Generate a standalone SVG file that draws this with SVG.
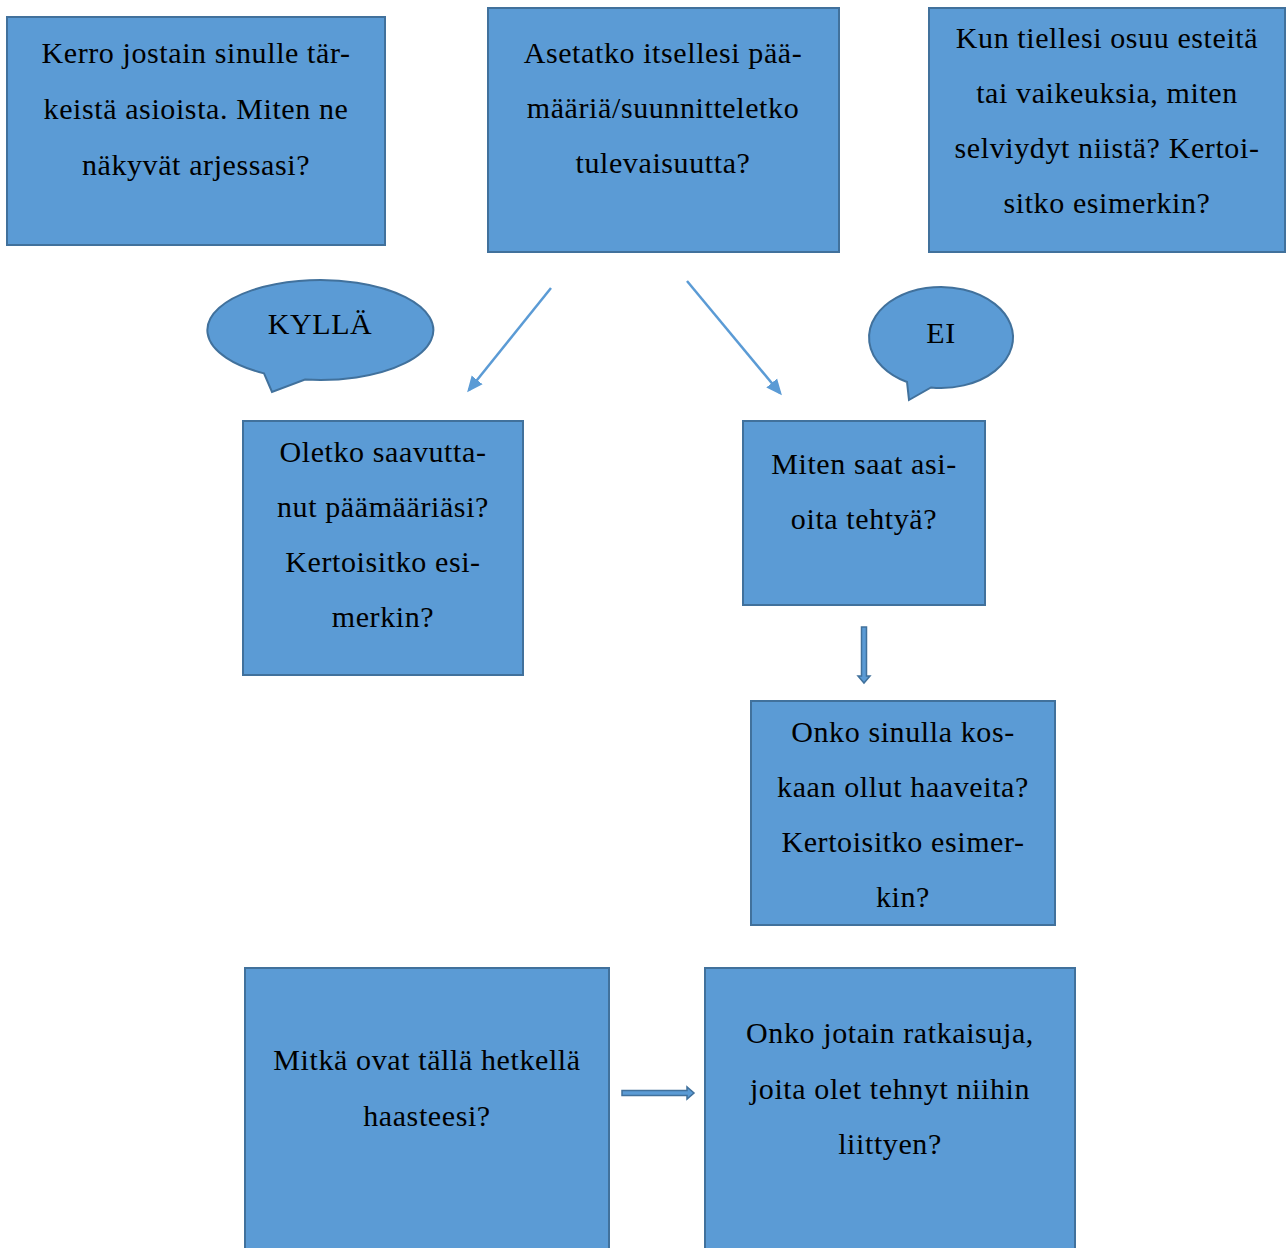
<svg xmlns="http://www.w3.org/2000/svg" width="1286" height="1248" viewBox="0 0 1286 1248">
<style>
.box{fill:#5B9BD5;stroke:#41719C;stroke-width:2}
.t{font-family:"Liberation Serif","Times New Roman",serif;font-size:30px;letter-spacing:0.6px;fill:#000;text-anchor:middle}
.ln{stroke:#5B9BD5;stroke-width:2.5;fill:none}
.blk{fill:#5B9BD5;stroke:#41719C;stroke-width:1.5}
</style>
<defs>
<marker id="ah2" markerWidth="16" markerHeight="16" refX="13" refY="8" orient="auto" markerUnits="userSpaceOnUse" viewBox="0 0 16 16">
<path d="M0,1 L16,8 L0,15 Z" fill="#5B9BD5"/>
</marker>
</defs>
<g id="n1"><rect class="box" x="7" y="17" width="378" height="228"/>
<text class="t" x="196" y="63">Kerro jostain sinulle tär-</text>
<text class="t" x="196" y="119">keistä asioista. Miten ne</text>
<text class="t" x="196" y="175">näkyvät arjessasi?</text></g>
<g id="n2"><rect class="box" x="488" y="8" width="351" height="244"/>
<text class="t" x="663" y="63">Asetatko itsellesi pää-</text>
<text class="t" x="663" y="118">määriä/suunnitteletko</text>
<text class="t" x="663" y="173">tulevaisuutta?</text></g>
<g id="n3"><rect class="box" x="929" y="8" width="356" height="244"/>
<text class="t" x="1107" y="48">Kun tiellesi osuu esteitä</text>
<text class="t" x="1107" y="103">tai vaikeuksia, miten</text>
<text class="t" x="1107" y="158">selviydyt niistä? Kertoi-</text>
<text class="t" x="1107" y="213">sitko esimerkin?</text></g>
<g id="kylla"><path class="box" d="M305,379.6 A113,50 0 1 0 264,373.4 L272,392 Z"/>
<text class="t" x="320" y="334">KYLLÄ</text></g>
<g id="ei"><path class="box" d="M931,387.5 A72,50.5 0 1 0 907,382 L909,400 Z"/>
<text class="t" x="941" y="343">EI</text></g>
<g id="n4"><rect class="box" x="243" y="421" width="280" height="254"/>
<text class="t" x="383" y="462">Oletko saavutta-</text>
<text class="t" x="383" y="517">nut päämääriäsi?</text>
<text class="t" x="383" y="572">Kertoisitko esi-</text>
<text class="t" x="383" y="627">merkin?</text></g>
<g id="n5"><rect class="box" x="743" y="421" width="242" height="184"/>
<text class="t" x="864" y="474">Miten saat asi-</text>
<text class="t" x="864" y="529">oita tehtyä?</text></g>
<g id="n6"><rect class="box" x="751" y="701" width="304" height="224"/>
<text class="t" x="903" y="742">Onko sinulla kos-</text>
<text class="t" x="903" y="797">kaan ollut haaveita?</text>
<text class="t" x="903" y="852">Kertoisitko esimer-</text>
<text class="t" x="903" y="907">kin?</text></g>
<g id="n7"><rect class="box" x="245" y="968" width="364" height="290"/>
<text class="t" x="427" y="1070">Mitkä ovat tällä hetkellä</text>
<text class="t" x="427" y="1126">haasteesi?</text></g>
<g id="n8"><rect class="box" x="705" y="968" width="370" height="290"/>
<text class="t" x="890" y="1043">Onko jotain ratkaisuja,</text>
<text class="t" x="890" y="1099">joita olet tehnyt niihin</text>
<text class="t" x="890" y="1154">liittyen?</text></g>
<g id="connectors">
<line class="ln" x1="551" y1="288" x2="469" y2="390" marker-end="url(#ah2)"/>
<line class="ln" x1="687" y1="281" x2="780" y2="393" marker-end="url(#ah2)"/>
<path class="blk" d="M861.5,627 L866.5,627 L866.5,676 L870,676 L864,683 L858,676 L861.5,676 Z"/>
<path class="blk" d="M622,1090.5 L687,1090.5 L687,1087 L694,1093 L687,1099 L687,1095.5 L622,1095.5 Z"/>
</g>
</svg>
